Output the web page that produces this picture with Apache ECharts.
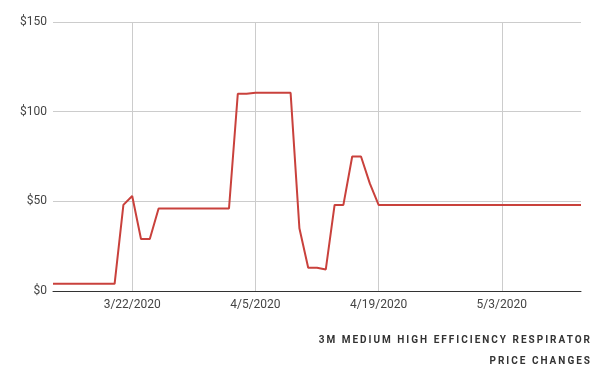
<!DOCTYPE html>
<html><head><meta charset="utf-8">
<script src="https://cdn.jsdelivr.net/npm/echarts@6/dist/echarts.min.js"></script>
<style>
html,body{margin:0;padding:0;background:#fff}
#wrap{position:relative;width:600px;height:371px}
#c{width:600px;height:371px}
.t{position:absolute;right:8px;font:bold 10px Roboto, sans-serif;letter-spacing:2px;color:#333;white-space:nowrap;line-height:12px}
</style>
</head><body><div id="wrap"><div id="c"></div>
<div class="t" id="t1" style="top:334px"></div>
<div class="t" id="t2" style="top:355px"></div></div>
<script>
// Daily prices from 3/13/2020 to 5/12/2020
var startDate = '2020-03-13';
var prices = [
  4, 4, 4, 4, 4, 4, 4, 4,          // 3/13 - 3/20
  48, 53, 29, 29,                  // 3/21 - 3/24
  46, 46, 46, 46, 46, 46, 46, 46, 46, // 3/25 - 4/2
  110, 110, 110.5, 110.5, 110.5, 110.5, 110.5, // 4/3 - 4/9
  35, 13, 13, 12, 48, 48, 75, 75, 60, // 4/10 - 4/18
  48, 48, 48, 48, 48, 48, 48, 48, 48, 48, 48, 48, // 4/19 - 4/30
  48, 48, 48, 48, 48, 48, 48, 48, 48, 48, 48, 48  // 5/1 - 5/12
];
var xTickLabels = ['3/22/2020', '4/5/2020', '4/19/2020', '5/3/2020'];
var yTicks = [0, 50, 100, 150];
var titleLines = ['3M MEDIUM HIGH EFFICIENCY RESPIRATOR', 'PRICE CHANGES'];

document.getElementById('t1').textContent = titleLines[0];
document.getElementById('t2').textContent = titleLines[1];

var categories = [];
(function(){
  var d = new Date(startDate + 'T12:00:00');
  for (var i = 0; i < prices.length; i++) {
    categories.push((d.getMonth()+1) + '/' + d.getDate() + '/' + d.getFullYear());
    d.setDate(d.getDate() + 1);
  }
})();
function isTick(idx, val) { return xTickLabels.indexOf(categories[idx]) >= 0; }

var chart = echarts.init(document.getElementById('c'), null, {renderer: 'canvas'});
chart.setOption({
  animation: false,
  backgroundColor: '#fff',
  textStyle: {fontFamily: 'Roboto'},
  grid: {left: 53, right: 19, top: 22, bottom: 80, containLabel: false},
  xAxis: {
    type: 'category', data: categories, boundaryGap: false,
    axisLine: {lineStyle: {color: '#333', width: 1}},
    axisTick: {show: false},
    axisLabel: {interval: isTick, color: '#444', fontSize: 12, margin: 8, fontFamily: 'Roboto'},
    splitLine: {show: true, interval: isTick, lineStyle: {color: '#ccc', width: 1}}
  },
  yAxis: {
    type: 'value', min: yTicks[0], max: yTicks[yTicks.length-1], interval: 50,
    axisLine: {show: false}, axisTick: {show: false},
    axisLabel: {formatter: function(v){return '$' + v;}, color: '#444', fontSize: 12, margin: 6, fontFamily: 'Roboto'},
    splitLine: {lineStyle: {color: '#ccc', width: 1}}
  },
  series: [{
    type: 'line', data: prices, showSymbol: false, symbol: 'none',
    lineStyle: {color: '#c9413c', width: 2}, z: 5
  }]
});
</script></body></html>
